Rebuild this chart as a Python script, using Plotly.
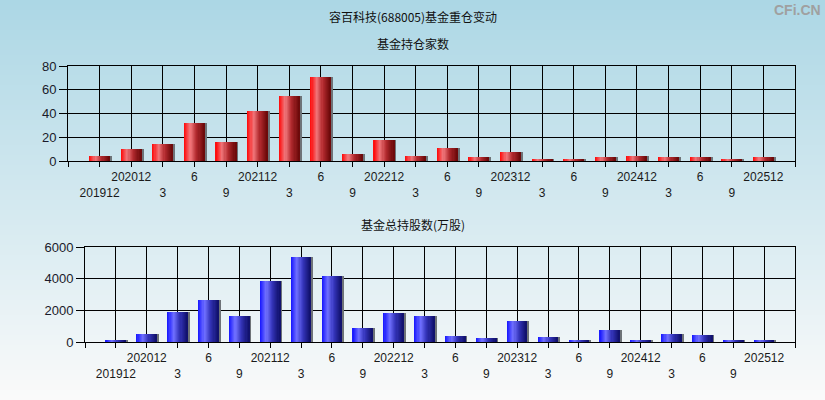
import plotly.graph_objects as go

# ---- data ----
periods = ["201912", "202012", "202103", "202106", "202109", "202112", "202203", "202206",
           "202209", "202212", "202303", "202306", "202309", "202312", "202403", "202406",
           "202409", "202412", "202503", "202506", "202509", "202512"]
tick_labels = ["201912", "202012", "3", "6", "9", "202112", "3", "6", "9", "202212", "3",
               "6", "9", "202312", "3", "6", "9", "202412", "3", "6", "9", "202512"]
fund_count = [4, 10, 14, 32, 16, 42, 55, 71, 6, 18, 4, 11, 3, 8, 1, 2, 3, 4, 3, 3, 1, 3]
fund_shares = [80, 520, 1920, 2670, 1660, 3870, 5390, 4190, 900, 1850, 1660, 400, 270,
               1350, 340, 80, 780, 150, 530, 460, 150, 150]

W, H = 825, 400
n = len(periods)
xs = list(range(n))

fig = go.Figure()

# background gradient (styling only)
top_c = (172, 215, 229)
bot_c = (250, 250, 250)
NB = 80
for i in range(NB):
    t = i / (NB - 1)
    c = tuple(round(top_c[k] + (bot_c[k] - top_c[k]) * t) for k in range(3))
    fig.add_shape(type="rect", xref="paper", yref="paper",
                  x0=0, x1=1, y0=1 - (i + 1) / NB - 0.002, y1=1 - i / NB,
                  fillcolor="rgb(%d,%d,%d)" % c, line_width=0, layer="below")


def lerp_stops(stops, t):
    for j in range(len(stops) - 1):
        t0, c0 = stops[j]
        t1, c1 = stops[j + 1]
        if t0 <= t <= t1:
            u = (t - t0) / (t1 - t0) if t1 > t0 else 0
            return tuple(round(c0[k] + (c1[k] - c0[k]) * u) for k in range(3))
    return stops[-1][1]


red_stops = [(0.0, (255, 5, 5)), (0.32, (240, 118, 122)), (0.62, (178, 42, 46)), (1.0, (105, 8, 8))]
blue_stops = [(0.0, (20, 20, 255)), (0.32, (112, 112, 255)), (0.62, (52, 52, 185)), (1.0, (15, 15, 105))]

BW = 0.64
NS = 18


def add_bars(values, stops, xa, ya):
    # shadow
    fig.add_trace(go.Bar(x=xs, y=values, width=BW, offset=-BW / 2 + 0.07,
                         marker_color="rgb(110,115,120)", marker_line_width=0,
                         xaxis=xa, yaxis=ya, showlegend=False, hoverinfo="skip"))
    sw = BW / NS
    for i in range(NS):
        t = (i + 0.5) / NS
        c = lerp_stops(stops, t)
        fig.add_trace(go.Bar(x=xs, y=values, width=sw * 1.15, offset=-BW / 2 + i * sw,
                             marker_color="rgb(%d,%d,%d)" % c, marker_line_width=0,
                             xaxis=xa, yaxis=ya, showlegend=False,
                             customdata=periods,
                             hovertemplate="%{customdata}: %{y}<extra></extra>"))


add_bars(fund_count, red_stops, "x", "y")
add_bars(fund_shares, blue_stops, "x2", "y2")

tickvals = list(range(-1, n + 1))
ticktext = []
for v in tickvals:
    if 0 <= v < n:
        lab = tick_labels[v]
        ticktext.append(("<br>" + lab) if v % 2 == 0 else lab)
    else:
        ticktext.append("")

font_xtick = dict(family="Liberation Sans, Arial, sans-serif", size=12, color="#1a1a1a")
font_ytick = dict(family="Liberation Sans, Arial, sans-serif", size=13, color="#1a1a2a")

xcommon = dict(range=[-1, n], tickmode="array", tickvals=tickvals, ticktext=ticktext,
               tickangle=0, automargin=False,
               showgrid=True, gridcolor="black", gridwidth=1, showline=True, linecolor="black",
               linewidth=1, mirror=True, ticks="outside", ticklen=5, tickcolor="black",
               tickfont=font_xtick, zeroline=False, fixedrange=True)
ycommon = dict(showgrid=True, gridcolor="black", gridwidth=1, showline=True, linecolor="black",
               linewidth=1, mirror=True, ticks="outside", ticklen=8, tickcolor="black",
               automargin=False,
               tickfont=font_ytick, zeroline=False, fixedrange=True)

fig.update_layout(
    width=W, height=H,
    margin=dict(l=0, r=0, t=0, b=0, autoexpand=False),
    paper_bgcolor="rgba(0,0,0,0)", plot_bgcolor="rgba(0,0,0,0)",
    barmode="overlay", bargap=0,
    showlegend=False,
    xaxis=dict(domain=[68 / W, 795 / W], anchor="y", **xcommon),
    yaxis=dict(domain=[1 - 161 / H, 1 - 66 / H], anchor="x", range=[0, 80],
               tickvals=[0, 20, 40, 60, 80], **ycommon),
    xaxis2=dict(domain=[85 / W, 795 / W], anchor="y2", **xcommon),
    yaxis2=dict(domain=[1 - 342 / H, 1 - 247 / H], anchor="x2", range=[0, 6000],
                tickvals=[0, 2000, 4000, 6000], **ycommon),
)

title_font = dict(family="Noto Sans CJK SC, sans-serif", size=12, color="#111111")
fig.add_annotation(text="容百科技(688005)基金重仓变动", x=0.5, y=1 - 17 / H, xref="paper", yref="paper",
                   showarrow=False, font=title_font, xanchor="center", yanchor="middle")
fig.add_annotation(text="基金持仓家数", x=0.5, y=1 - 43 / H, xref="paper", yref="paper",
                   showarrow=False, font=title_font, xanchor="center", yanchor="middle")
fig.add_annotation(text="基金总持股数(万股)", x=0.5, y=1 - 224 / H, xref="paper", yref="paper",
                   showarrow=False, font=title_font, xanchor="center", yanchor="middle")
fig.add_annotation(text="<b>CFi.CN</b>", x=823 / W, y=1 - 10 / H, xref="paper", yref="paper",
                   showarrow=False, xanchor="right", yanchor="middle",
                   font=dict(family="Liberation Sans, Arial, sans-serif", size=14, color="#a0a0a0"))

fig.write_html("out.html", config={"displayModeBar": False},
               post_script="document.body.style.margin='0';document.body.style.overflow='hidden';")
